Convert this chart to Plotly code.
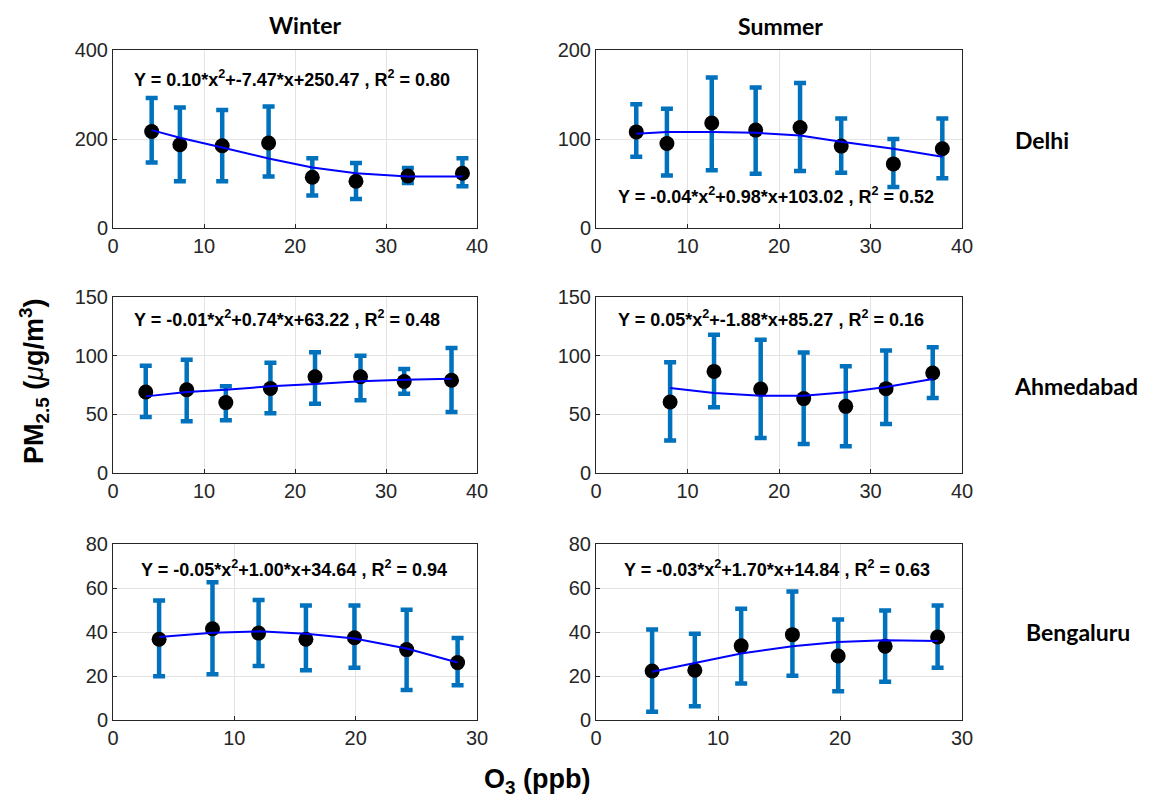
import plotly.graph_objects as go

# ---------------- data ----------------
cities = ["Delhi", "Ahmedabad", "Bengaluru"]
seasons = ["Winter", "Summer"]

# Delhi – Winter
dw_x = [4.25, 7.35, 12.0, 17.1, 21.9, 26.7, 32.4, 38.4]
dw_y = [217, 187, 185, 191, 114, 105, 117, 123]
dw_hi = [292, 271, 265, 273, 157, 146, 135, 157]
dw_lo = [147, 105, 105, 116, 73, 65, 101, 94]
dw_fit = [220, 203, 181, 156, 136, 123, 116, 116]
# Delhi – Summer
ds_x = [4.4, 7.75, 12.65, 17.45, 22.3, 26.8, 32.5, 37.85]
ds_y = [108, 95, 118, 110, 113, 92, 72, 89]
ds_hi = [139, 134, 169, 158, 163, 123, 100, 123]
ds_lo = [80, 59, 65, 61, 64, 62, 46, 56]
ds_fit = [106, 108, 108, 107, 104, 97, 89, 80]
# Ahmedabad – Winter
aw_x = [3.6, 8.1, 12.4, 17.3, 22.2, 27.2, 32.0, 37.2]
aw_y = [69, 71, 60, 72, 82, 82, 78, 79]
aw_hi = [91.5, 96.6, 74, 94, 103, 100, 88.6, 106.5]
aw_lo = [47.7, 44, 45, 51, 59, 62, 67.6, 52]
aw_fit = [65.3, 69, 71, 73.9, 75.9, 78.1, 79.5, 80.4]
# Ahmedabad – Summer
as_x = [8.1, 12.9, 18.0, 22.7, 27.3, 31.7, 36.8]
as_y = [60.5, 86.6, 71.6, 63.4, 56.8, 71.9, 85.2]
as_hi = [94.3, 117.9, 113.6, 102.8, 90.9, 104.5, 107.1]
as_lo = [27.8, 56, 29.8, 24.7, 22.7, 41.8, 63.9]
as_fit = [72.4, 68.2, 65.9, 65.9, 68.8, 73.3, 80.1]
# Bengaluru – Winter
bw_x = [3.8, 8.2, 12.0, 15.9, 19.9, 24.2, 28.4]
bw_y = [36.7, 41.5, 39.5, 36.7, 37.4, 32.0, 26.1]
bw_hi = [54.3, 62.6, 54.6, 52.1, 52.1, 50.1, 37.3]
bw_lo = [19.9, 20.8, 24.6, 22.6, 23.7, 13.6, 15.8]
bw_fit = [37.7, 39.7, 40.3, 39.2, 37.0, 32.5, 26.1]
# Bengaluru – Summer
bs_x = [4.6, 8.1, 11.9, 16.1, 19.85, 23.7, 28.0]
bs_y = [22.3, 22.6, 33.7, 38.8, 29.1, 33.5, 37.7]
bs_hi = [41.1, 39.2, 50.6, 58.4, 45.7, 49.8, 52.1]
bs_lo = [3.8, 6.3, 16.6, 20.1, 13.1, 17.4, 23.8]
bs_fit = [21.9, 26.0, 30.2, 33.5, 35.5, 36.2, 35.9]

equations = [
    "Y = 0.10*x<sup>2</sup>+-7.47*x+250.47 , R<sup>2</sup> = 0.80",
    "Y = -0.04*x<sup>2</sup>+0.98*x+103.02 , R<sup>2</sup> = 0.52",
    "Y = -0.01*x<sup>2</sup>+0.74*x+63.22 , R<sup>2</sup> = 0.48",
    "Y = 0.05*x<sup>2</sup>+-1.88*x+85.27 , R<sup>2</sup> = 0.16",
    "Y = -0.05*x<sup>2</sup>+1.00*x+34.64 , R<sup>2</sup> = 0.94",
    "Y = -0.03*x<sup>2</sup>+1.70*x+14.84 , R<sup>2</sup> = 0.63",
]

x_ranges = [[0, 40], [0, 40], [0, 40], [0, 40], [0, 30], [0, 30]]
y_ranges = [[0, 400], [0, 200], [0, 150], [0, 150], [0, 80], [0, 80]]
y_dticks = [200, 100, 50, 50, 20, 20]

panels = [
    (dw_x, dw_y, dw_hi, dw_lo, dw_fit),
    (ds_x, ds_y, ds_hi, ds_lo, ds_fit),
    (aw_x, aw_y, aw_hi, aw_lo, aw_fit),
    (as_x, as_y, as_hi, as_lo, as_fit),
    (bw_x, bw_y, bw_hi, bw_lo, bw_fit),
    (bs_x, bs_y, bs_hi, bs_lo, bs_fit),
]

# ---------------- layout geometry (screen pixels of the target) ----------------
W, H = 1156, 805
OFF = 8  # page body margin that the browser adds around the figure
col_px = [(113, 477), (596, 962)]
row_px = [(50, 228), (297, 473), (544, 720)]
eq_pos = [(292, 79), (776, 196), (287, 318), (771, 318), (294, 568), (777, 568)]


def px(x):
    return (x - OFF) / W


def py(y):
    return 1 - (y - OFF) / H


ERR_COL = "#0072BD"
AX_COL = "#262626"

fig = go.Figure()
layout_axes = {}
for i, (xs, ys, hi, lo, fit) in enumerate(panels):
    r, c = divmod(i, 2)
    n = i + 1
    xa = "x" if n == 1 else f"x{n}"
    ya = "y" if n == 1 else f"y{n}"
    plus = [h - v for h, v in zip(hi, ys)]
    minus = [v - l for l, v in zip(lo, ys)]
    fig.add_trace(go.Scatter(
        x=xs, y=ys, mode="markers", xaxis=xa, yaxis=ya,
        marker=dict(color="black", size=15),
        error_y=dict(type="data", symmetric=False, array=plus, arrayminus=minus,
                     color=ERR_COL, thickness=4.5, width=6),
        showlegend=False))
    fig.add_trace(go.Scatter(
        x=xs, y=fit, mode="lines", xaxis=xa, yaxis=ya,
        line=dict(color="#0000FF", width=2), showlegend=False))
    x0, x1 = col_px[c]
    y0, y1 = row_px[r]
    common = dict(showgrid=True, gridcolor="#E3E3E3", gridwidth=1,
                  showline=True, linecolor=AX_COL, linewidth=1, mirror=True,
                  ticks="inside", ticklen=4, tickcolor=AX_COL,
                  tickfont=dict(family="Liberation Sans, Arial", size=20, color=AX_COL),
                  zeroline=False, fixedrange=True, automargin=False)
    layout_axes["xaxis" if n == 1 else f"xaxis{n}"] = dict(
        domain=[px(x0), px(x1)], range=x_ranges[i], dtick=10,
        anchor=ya, **common)
    layout_axes["yaxis" if n == 1 else f"yaxis{n}"] = dict(
        domain=[py(y1), py(y0)], range=y_ranges[i], dtick=y_dticks[i],
        anchor=xa, **common)

annotations = []
for i, eq in enumerate(equations):
    ex, ey = eq_pos[i]
    annotations.append(dict(
        text=eq, x=px(ex), y=py(ey), xref="paper", yref="paper",
        showarrow=False, xanchor="center", yanchor="middle",
        font=dict(family="Liberation Sans, Arial", size=18, color="black", weight="bold")))

title_font = dict(family="Lato, Calibri, sans-serif", size=23, color="black", weight="bold")
for s, (tx, ty) in zip(seasons, [(305, 25), (780, 26)]):
    annotations.append(dict(text=s, x=px(tx), y=py(ty), xref="paper", yref="paper",
                            showarrow=False, xanchor="center", yanchor="middle", font=title_font))
for cty, (tx, ty) in zip(cities, [(1042, 140), (1076, 386), (1078, 632)]):
    annotations.append(dict(text=cty, x=px(tx), y=py(ty), xref="paper", yref="paper",
                            showarrow=False, xanchor="center", yanchor="middle", font=title_font))

lab_font = dict(family="Liberation Sans, Arial", size=27, color="black", weight="bold")
annotations.append(dict(
    text="PM<sub>2.5</sub> (<i style='font-weight:normal'>μ</i>g/m<sup>3</sup>)",
    x=px(34), y=py(381), xref="paper", yref="paper", textangle=-90,
    showarrow=False, xanchor="center", yanchor="middle", font=lab_font))
annotations.append(dict(
    text="O<sub>3</sub> (ppb)", x=px(537), y=py(781), xref="paper", yref="paper",
    showarrow=False, xanchor="center", yanchor="middle", font=lab_font))

fig.update_layout(
    width=W, height=H, margin=dict(l=0, r=0, t=0, b=0, autoexpand=False),
    paper_bgcolor="white", plot_bgcolor="white",
    annotations=annotations, **layout_axes)

fig.write_html("out.html")
